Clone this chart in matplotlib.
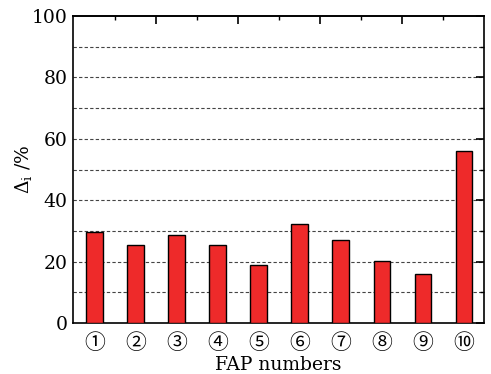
import matplotlib
matplotlib.use("Agg")
import matplotlib.pyplot as plt
import numpy as np

# Delta_i per fuel assembly position
fap_labels = ["①", "②", "③", "④", "⑤", "⑥", "⑦", "⑧", "⑨", "⑩"]
delta_pct = [29.7, 25.4, 28.8, 25.3, 18.8, 32.3, 27.0, 20.2, 16.0, 56.2]

plt.rcParams["font.family"] = ["DejaVu Serif", "Noto Sans CJK SC"]
plt.rcParams["mathtext.fontset"] = "dejavuserif"

fig = plt.figure(figsize=(4.91, 3.74), dpi=100)
ax = fig.add_axes([0.1487, 0.1364, 0.837, 0.8206])

x = np.arange(1, len(delta_pct) + 1)
ax.bar(x, delta_pct, width=0.4, color="#ee2a2a", edgecolor="black",
       linewidth=1.0, zorder=3)

ax.set_xlim(0.48, 10.49)
ax.set_ylim(0, 100)

# dashed grid every 10 %
for yv in range(10, 100, 10):
    ax.axhline(yv, color="#444444", linestyle=(0, (3, 2)), linewidth=0.8, zorder=1)

ax.set_yticks(np.arange(0, 101, 20))
ax.set_yticks(np.arange(10, 100, 20), minor=True)
ax.tick_params(axis="y", which="both", direction="in", left=False, right=True,
               labelsize=13.5, pad=4)
ax.tick_params(axis="y", which="major", length=6, width=1.2)
ax.tick_params(axis="y", which="minor", length=3, width=1.0)

ax.set_xticks(x)
ax.set_xticklabels(fap_labels)
ax.tick_params(axis="x", which="both", bottom=False, top=False, labelsize=15, pad=4)

# ticks between the bars along the top edge, alternating long/short
top = ax.secondary_xaxis("top")
top.set_xticks(np.arange(2.5, 10.0, 2.0))
top.set_xticks(np.arange(1.5, 10.0, 2.0), minor=True)
top.tick_params(which="both", direction="in", labeltop=False)
top.tick_params(which="major", length=6, width=1.2)
top.tick_params(which="minor", length=3, width=1.0)
top.spines["top"].set_linewidth(1.2)

for s in ax.spines.values():
    s.set_linewidth(1.2)

ax.set_xlabel("FAP numbers", fontsize=13.5, labelpad=2)
ax.set_ylabel(r"$\Delta_{\mathrm{i}}$ /%", fontsize=13.5, labelpad=-2)

fig.savefig("out.png", dpi=100)
